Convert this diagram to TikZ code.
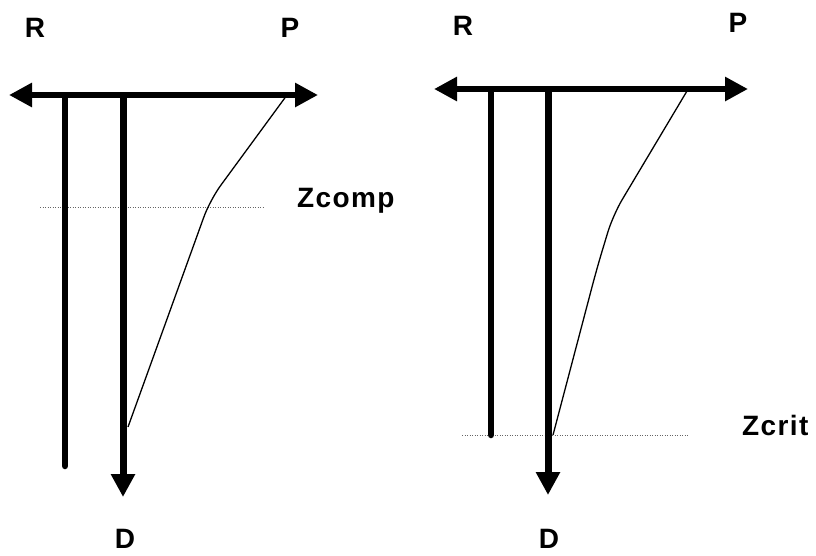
\documentclass[tikz,border=0pt]{standalone}
\usepackage{fontspec}
\setmainfont{Liberation Sans}
\usetikzlibrary{arrows.meta}

\begin{document}
\begin{tikzpicture}[
  x=1pt, y=-1pt,
  lbl/.style={font=\fontsize{28}{28}\selectfont\bfseries\addfontfeature{LetterSpace=5}, inner sep=0pt},
  axis/.style={line width=6.5pt, {Triangle[length=23pt,width=23pt]}-{Triangle[length=23pt,width=23pt]}},
  depth/.style={line width=7pt, -{Triangle[length=23pt,width=23pt]}},
  wall/.style={line width=6.5pt, line cap=round},
  profile/.style={line width=1.3pt, line join=round, rounded corners=18pt},
  level/.style={gray!80!black, line width=1pt, dash pattern=on 1pt off 1.5pt}
]
  \useasboundingbox (0,0) rectangle (816,555);

  \node[lbl,anchor=base] (rL) at (35,37)  {R};
  \node[lbl,anchor=base] (pL) at (290,37) {P};
  \node[lbl,anchor=base] (dL) at (125,548) {D};
  \node[lbl,anchor=base west] (zc) at (297,207) {Zcomp};

  \coordinate (axL1) at (9,95);
  \coordinate (axL2) at (318,95);
  \coordinate (wL1) at (65,98);
  \coordinate (wL2) at (65,466);
  \coordinate (dL1) at (123,98);
  \coordinate (dL2) at (123,497);
  \coordinate (pfL1) at (287,95);
  \coordinate (pfL2) at (210,200);
  \coordinate (pfL3) at (128,427);
  \coordinate (lvL1) at (40,207);
  \coordinate (lvL2) at (264,207);

  \draw[level] (lvL1) -- (lvL2);
  \draw[axis] (axL1) -- (axL2);
  \draw[wall] (wL1) -- (wL2);
  \draw[depth] (dL1) -- (dL2);
  \draw[profile] (pfL1) -- (pfL2) -- (pfL3);

  \node[lbl,anchor=base] (rR) at (463,35)  {R};
  \node[lbl,anchor=base] (pR) at (738,32)  {P};
  \node[lbl,anchor=base] (dR) at (549,548) {D};
  \node[lbl,anchor=base west] (zk) at (742,435) {Zcrit};

  \coordinate (axR1) at (434,89);
  \coordinate (axR2) at (748,89);
  \coordinate (wR1) at (491,92);
  \coordinate (wR2) at (491,435);
  \coordinate (dR1) at (548,92);
  \coordinate (dR2) at (548,495);
  \coordinate (pfR1) at (687,91);
  \coordinate (pfR2) at (613,215);
  \coordinate (pfR3) at (597,268);
  \coordinate (pfR4) at (553,435);
  \coordinate (lvR1) at (462,435);
  \coordinate (lvR2) at (688,435);

  \draw[level] (lvR1) -- (lvR2);
  \draw[axis] (axR1) -- (axR2);
  \draw[wall] (wR1) -- (wR2);
  \draw[depth] (dR1) -- (dR2);
  \draw[profile] (pfR1) -- (pfR2) -- (pfR3) -- (pfR4);
\end{tikzpicture}
\end{document}
